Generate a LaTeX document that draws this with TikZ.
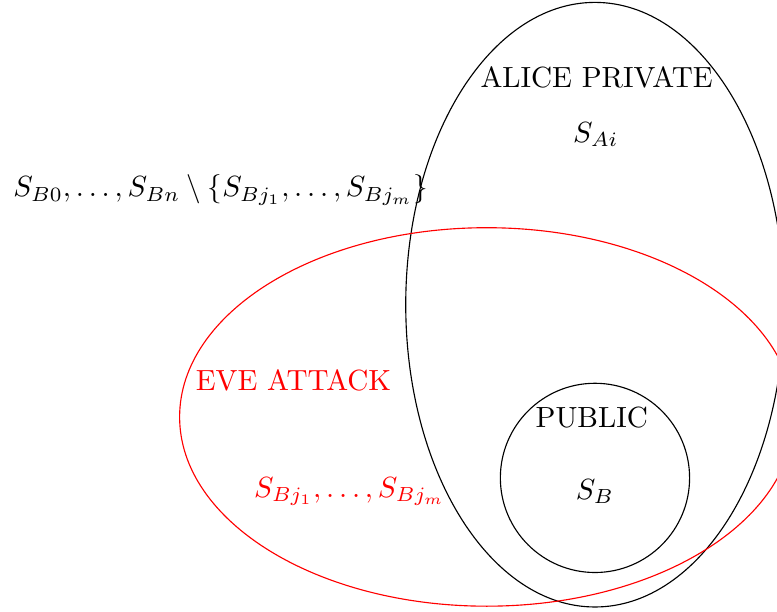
\documentclass[tikz,border=0pt]{standalone}
\usepackage{amsmath,amssymb}
\usepackage{tikz}
\usetikzlibrary{positioning}
\usepackage{xcolor}

\begin{document}
\begin{tikzpicture}[every node/.append style={scale=1.035}]
\useasboundingbox (0,0) rectangle (9.69,7.63);

% Alice private set
\draw (7.42,3.83) ellipse (2.36cm and 3.77cm);
\node (alicelbl) at (7.44,6.66) {ALICE PRIVATE};
\node (alicekey) at (7.43,5.95) {$S_{Ai}$};

% Eve attack set
\draw[red] (6.07,2.43) ellipse (3.83cm and 2.36cm);
\node[red] (evelbl) at (3.66,2.89) {EVE ATTACK};
\node[red] (evekeys) at (4.36,1.50) {$S_{Bj_1},\dots,S_{Bj_m}$};

% Public set
\draw (7.42,1.67) circle (1.18cm);
\node (publbl) at (7.38,2.42) {PUBLIC};
\node (pubkey) at (7.42,1.50) {$S_B$};

% Remaining keys
\node (restkeys) at (2.75,5.26) {$S_{B0},\dots,S_{Bn}\setminus\{S_{Bj_1},\dots,S_{Bj_m}\}$};
\end{tikzpicture}
\end{document}
